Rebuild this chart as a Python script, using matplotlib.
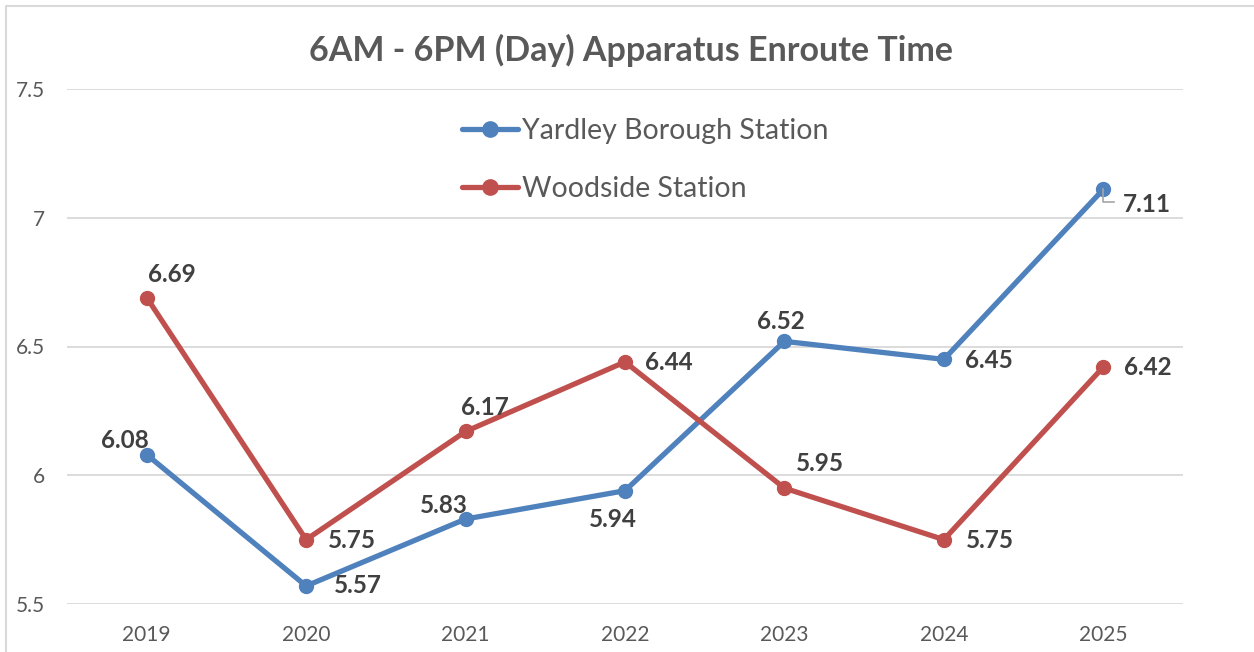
import matplotlib
matplotlib.use("Agg")
import matplotlib.pyplot as plt
from matplotlib.lines import Line2D

plt.rcParams["font.family"] = ["Lato", "DejaVu Sans"]

# ── Data ──────────────────────────────────────────────────────────────────────
years    = ["2019", "2020", "2021", "2022", "2023", "2024", "2025"]
yardley  = [6.08, 5.57, 5.83, 5.94, 6.52, 6.45, 7.11]
woodside = [6.69, 5.75, 6.17, 6.44, 5.95, 5.75, 6.42]

BLUE = "#4F81BD"
RED  = "#C0504D"
GRID = "#D9D9D9"

# label offsets in pixels (dx, dy) relative to each point
yardley_off  = [(-22, 14), (52, 0), (-22, 14), (-12, -29), (-4, 20), (45, -1), (44, -15)]
woodside_off = [(25, 23), (46, -1), (19, 24), (44, -1), (35, 25), (46, -1), (45, 0)]

fig = plt.figure(figsize=(12.54, 6.52), dpi=100)
ax = fig.add_axes([67 / 1254, 1 - 604 / 652, (1183 - 67) / 1254, (604 - 89) / 652])

x = list(range(len(years)))
ax.plot(x, yardley, color=BLUE, lw=3.8, marker="o", ms=10,
        solid_capstyle="round", label="Yardley Borough Station", zorder=3)
ax.plot(x, woodside, color=RED, lw=3.8, marker="o", ms=10,
        solid_capstyle="round", label="Woodside Station", zorder=3)

ax.set_xlim(-0.5, len(years) - 0.5)
ax.set_ylim(5.5, 7.5)
ax.set_yticks([5.5, 6, 6.5, 7, 7.5])
ax.set_yticklabels(["5.5", "6", "6.5", "7", "7.5"])
ax.set_xticks(x)
ax.set_xticklabels(years)
ax.yaxis.grid(True, color=GRID, lw=1.3)
ax.set_axisbelow(True)
for s in ax.spines.values():
    s.set_visible(False)
ax.tick_params(axis="both", length=0, colors="#595959", labelsize=15)
ax.tick_params(axis="y", pad=16)
ax.tick_params(axis="x", pad=15)

for vals, offs in ((yardley, yardley_off), (woodside, woodside_off)):
    for xi, v, (dx, dy) in zip(x, vals, offs):
        ax.annotate(f"{v:.2f}", (xi, v), xytext=(dx, dy), textcoords="offset pixels",
                    ha="center", va="center", fontsize=17.5, fontweight="bold",
                    color="#404040", zorder=4)

fig.canvas.draw()
# leader line for the 2025 Yardley label
px, py = ax.transData.transform((6, yardley[6]))
fig.add_artist(Line2D([px, px, px + 11], [py, py - 13, py - 13],
                      transform=None, color="#A6A6A6", lw=1.2, zorder=2))

fig.text(631 / 1254, 1 - 50 / 652, "6AM - 6PM (Day) Apparatus Enroute Time",
         ha="center", va="center", fontsize=24.5, fontweight="bold", color="#595959")

ax.legend(loc="upper left", bbox_to_anchor=(448 / 1254, 1 - 104 / 652),
          bbox_transform=fig.transFigure, frameon=False, fontsize=20.5,
          handlelength=1.95, handletextpad=0.15, labelspacing=1.1,
          borderpad=0, labelcolor="#595959", markerscale=1.1)

# chart border (top and left edges visible)
fig.add_artist(Line2D([6 / 1254, 6 / 1254, 1.01], [-0.01, 1 - 6 / 652, 1 - 6 / 652],
                      transform=fig.transFigure, color=GRID, lw=1.5))

fig.savefig("out.png", dpi=100)
